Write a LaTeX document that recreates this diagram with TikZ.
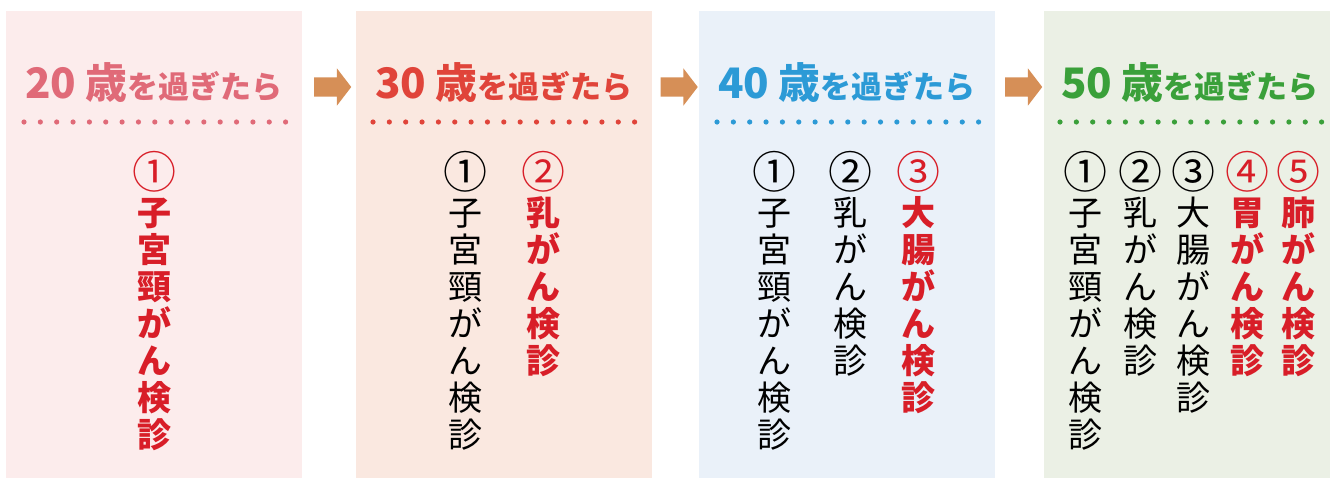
\documentclass[tikz,border=0pt]{standalone}
\usepackage{fontspec}
\setmainfont{Noto Sans CJK JP}
\usetikzlibrary{shapes.arrows}

\definecolor{bgA}{HTML}{FCECEC}
\definecolor{bgB}{HTML}{FAE8E0}
\definecolor{bgC}{HTML}{EAF1F9}
\definecolor{bgD}{HTML}{EBF0E5}
\definecolor{txA}{HTML}{E06A78}
\definecolor{txB}{HTML}{E0443A}
\definecolor{txC}{HTML}{2C9AD6}
\definecolor{txD}{HTML}{3AA03A}
\definecolor{arrowc}{HTML}{D68F57}
\definecolor{redc}{HTML}{D81E28}

\tikzset{
  panel/.style={anchor=north west, inner sep=0, minimum width=296pt, minimum height=470pt},
  nextarrow/.style={single arrow, fill=arrowc, inner xsep=0, inner ysep=9.5pt,
    minimum height=37pt, single arrow head extend=9pt, single arrow tip angle=105},
  header/.style={anchor=base, inner sep=0, font=\bfseries\fontsize{31}{31}\selectfont},
  dotline/.style={line width=5.2pt, line cap=round, dash pattern=on 0pt off 16.35pt},
  col/.style={anchor=north, inner sep=0, align=center, font=\fontsize{34}{37}\selectfont},
  redcol/.style={col, text=redc, font=\bfseries\fontsize{34}{37}\selectfont},
}
\newcommand{\agetext}[1]{{\fontsize{42}{42}\selectfont #1 歳}}
\newcommand{\circnum}[1]{{\mdseries\fontsize{44}{37}\selectfont #1}}

\begin{document}
\begin{tikzpicture}[x=1pt,y=-1pt]
\useasboundingbox (0,0) rectangle (1330,477);

% panels
\node[panel, fill=bgA] (p1) at (6,11) {};
\node[panel, fill=bgB] (p2) at (356,11) {};
\node[panel, fill=bgC] (p3) at (699,11) {};
\node[panel, fill=bgD] (p4) at (1044,11) {};
\fill[white] (1330,0) rectangle (1400,477);

% arrows
\node[nextarrow] (a1) at (329,87) {};
\node[nextarrow] (a2) at (675.5,87) {};
\node[nextarrow] (a3) at (1020,87) {};

% headers
\node[header, text=txA] (h1) at (154,98) {\agetext{20}を過ぎたら};
\node[header, text=txB] (h2) at (504,98) {\agetext{30}を過ぎたら};
\node[header, text=txC] (h3) at (847,98) {\agetext{40}を過ぎたら};
\node[header, text=txD] (h4) at (1190,98) {\agetext{50}を過ぎたら};

\draw[dotline, txA] (24,122) -- ++(262,0);
\draw[dotline, txB] (373,122) -- ++(262,0);
\draw[dotline, txC] (717,122) -- ++(262,0);
\draw[dotline, txD] (1060,122) -- ++(262,0);

% 20
\node[redcol] (c11) at (154,151) {\circnum{①}\\子\\宮\\頸\\が\\ん\\検\\診};
% 30
\node[col] (c21) at (465,151) {\circnum{①}\\子\\宮\\頸\\が\\ん\\検\\診};
\node[redcol] (c22) at (543,151) {\circnum{②}\\乳\\が\\ん\\検\\診};
% 40
\node[col] (c31) at (774,151) {\circnum{①}\\子\\宮\\頸\\が\\ん\\検\\診};
\node[col] (c32) at (850,151) {\circnum{②}\\乳\\が\\ん\\検\\診};
\node[redcol] (c33) at (918,151) {\circnum{③}\\大\\腸\\が\\ん\\検\\診};
% 50
\node[col] (c41) at (1085,151) {\circnum{①}\\子\\宮\\頸\\が\\ん\\検\\診};
\node[col] (c42) at (1140,151) {\circnum{②}\\乳\\が\\ん\\検\\診};
\node[col] (c43) at (1193,151) {\circnum{③}\\大\\腸\\が\\ん\\検\\診};
\node[redcol] (c44) at (1247,151) {\circnum{④}\\胃\\が\\ん\\検\\診};
\node[redcol] (c45) at (1298,151) {\circnum{⑤}\\肺\\が\\ん\\検\\診};
\end{tikzpicture}
\end{document}
